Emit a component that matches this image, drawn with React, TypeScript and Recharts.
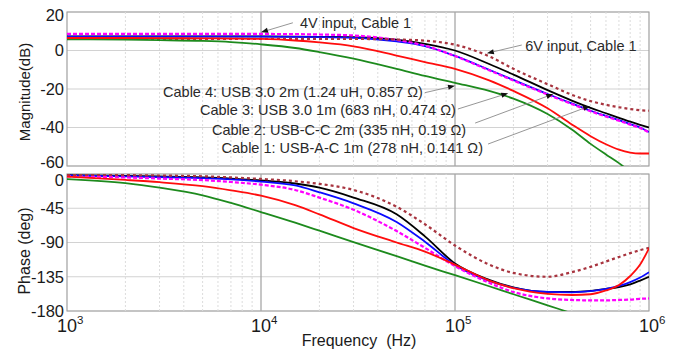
import React from 'react';
import { LineChart, Line, XAxis, YAxis, CartesianGrid, ReferenceLine, ReferenceArea } from 'recharts';

const FONT = '"Liberation Sans", Arial, Helvetica, sans-serif';

// frequency grid (Hz) shared by every trace
const freqs = [1e3, 2e3, 3e3, 5e3, 7e3, 1e4, 1.5e4, 2e4, 3e4, 5e4, 7e4, 1e5, 1.5e5, 2e5, 3e5, 4e5, 5e5, 6e5, 7e5, 8e5, 9e5, 1e6];

// magnitude, dB
const magCable1 = [7.2, 7.2, 7.2, 7.2, 7.2, 7.2, 7.1, 7.0, 6.6, 4.7, 2.3, -2.8, -10, -15.3, -22.6, -27.5, -31.3, -34, -36.2, -38.2, -40, -42.3];
const magCable2 = [7.3, 7.3, 7.3, 7.3, 7.3, 7.3, 7.2, 7.1, 7.0, 5.6, 3.5, 0, -7, -12.5, -20.6, -26, -29.8, -32.6, -35, -37, -38.6, -40];
const magCable3 = [6.5, 6.5, 6.4, 6.3, 6.2, 6.0, 5.2, 4.2, 2.2, -2.6, -6.0, -9.5, -15.5, -21, -30, -38.4, -44.5, -48.7, -51.5, -53, -53.5, -53.5];
const magCable4 = [5.8, 5.6, 5.4, 5.0, 4.4, 3.2, 1.3, -0.8, -4.2, -9.5, -13.2, -16.8, -21, -25, -33, -41, -48.5, -54, -58.5, -63, -67, -71];
const mag4V = [8.6, 8.6, 8.6, 8.6, 8.6, 8.6, 8.5, 8.3, 7.8, 5.5, 2.5, -2.9, -10.3, -15.6, -22.9, -27.8, -31.6, -34.3, -36.5, -38.5, -40.3, -42.6];
const mag6V = [6.0, 6.0, 6.0, 6.0, 6.0, 6.0, 6.0, 6.0, 6.0, 5.7, 5.1, 3.0, -3, -9.5, -17.5, -23, -26.3, -28.2, -29.5, -30.4, -31, -31.3];

// phase, degrees
const phCable1 = [-2, -3, -4, -5.5, -7, -10, -15, -24, -38.5, -63, -89, -119.6, -140.5, -149.5, -155, -155.5, -154, -151, -147, -142, -136, -129];
const phCable2 = [-1.5, -2.5, -3.3, -4.5, -6, -8.5, -12.5, -18, -31, -53, -82, -117.5, -139, -149, -155, -155, -153.5, -151, -148.5, -145, -140, -135];
const phCable3 = [-3.5, -7.8, -10.8, -16, -21.5, -28.5, -41, -53, -71, -90, -102, -119, -140, -150, -157.5, -159, -158, -153, -146, -134, -119, -97.6];
const phCable4 = [-6.6, -12, -18, -28, -38, -50, -64, -74.5, -89.5, -108, -120.5, -133, -147.5, -158, -172.5, -183, -191, -197.5, -203, -208, -212, -216];
const ph4V = [-3, -4.5, -6, -8, -10.5, -14, -21, -31, -47, -75, -97, -121, -143, -155, -163.5, -165.5, -166, -166, -165.5, -165, -164, -163.5];
const ph6V = [-1, -1.5, -2, -3, -4.5, -6.5, -9.5, -13, -21, -43, -66, -94, -119, -130, -135, -129, -122, -115, -109, -104, -100, -97];

const decadeTicks = [1e3, 1e4, 1e5, 1e6];
const magTicks = [-60, -40, -20, 0, 20];
const phaseTicks = [-180, -135, -90, -45, 0];
const minorFreqs = [1e3, 1e4, 1e5].flatMap(d => [2, 3, 4, 5, 6, 7, 8, 9].map(k => k * d));

const rows = freqs.map((f, i) => ({
  f,
  m1: magCable1[i], m2: magCable2[i], m3: magCable3[i], m4: magCable4[i], m4v: mag4V[i], m6v: mag6V[i],
  p1: phCable1[i], p2: phCable2[i], p3: phCable3[i], p4: phCable4[i], p4v: ph4V[i], p6v: ph6V[i],
}));

const traces = [
  { key: '2', color: '#000000', dash: undefined },
  { key: '1', color: '#0a0aff', dash: undefined },
  { key: '4v', color: '#ff00ff', dash: '4 2' },
  { key: '6v', color: '#a8343f', dash: '3 3' },
  { key: '4', color: '#1d8a1d', dash: undefined },
  { key: '3', color: '#ff0d0d', dash: undefined },
];

interface Note {
  text: string;
  tail: [number, number];
  tip: [number, number];
  dx: number;
  dy: number;
  anchor: 'start' | 'end';
}

const notes: Note[] = [
  { text: '4V input, Cable 1', tail: [1.46e4, 14.4], tip: [1.0e4, 9.45], dx: 7, dy: 5.6, anchor: 'start' },
  { text: '6V input, Cable 1', tail: [2.21e5, 2.85], tip: [1.46e5, -1.45], dx: 3.5, dy: 5.7, anchor: 'start' },
  { text: 'Cable 4: USB 3.0 2m (1.24 uH, 0.857 Ω)', tail: [7.0e4, -21.9], tip: [1.0e5, -18.3], dx: -2, dy: 4.6, anchor: 'end' },
  { text: 'Cable 3: USB 3.0 1m (683 nH, 0.474 Ω)', tail: [1.035e5, -30.4], tip: [1.88e5, -22.2], dx: -2, dy: 6, anchor: 'end' },
  { text: 'Cable 2: USB-C-C 2m (335 nH, 0.19 Ω)', tail: [1.27e5, -37.7], tip: [3.21e5, -22.6], dx: -9, dy: 12, anchor: 'end' },
  { text: 'Cable 1: USB-A-C 1m (278 nH, 0.141 Ω)', tail: [1.48e5, -48.6], tip: [4.97e5, -28.8], dx: -5, dy: 8.7, anchor: 'end' },
];

// thin leader line with a small filled head, text hung off the tail end
const noteShape = (n: Note) => (props: any) => {
  const { x1, y1, x2, y2 } = props;
  const ang = Math.atan2(y2 - y1, x2 - x1);
  const len = 7;
  const half = 2.6;
  const bx = x2 - len * Math.cos(ang);
  const by = y2 - len * Math.sin(ang);
  const px = -Math.sin(ang) * half;
  const py = Math.cos(ang) * half;
  return (
    <g>
      <line x1={x1} y1={y1} x2={bx} y2={by} stroke="#8a8a8a" strokeWidth={0.9} />
      <polygon points={`${x2},${y2} ${bx + px},${by + py} ${bx - px},${by - py}`} fill="#111" />
      <text x={x1 + n.dx} y={y1 + n.dy} textAnchor={n.anchor} fontSize={14.5} fill="#2a2a2a" fontFamily={FONT}>
        {n.text}
      </text>
    </g>
  );
};

const yTick = (shift: Record<number, number>) => (props: any) => {
  const { x, y, payload } = props;
  return (
    <text x={x} y={y + (shift[payload.value] ?? 0)} dy="0.36em" textAnchor="end" fontSize={16.5} fill="#1a1a1a" fontFamily={FONT}>
      {payload.value}
    </text>
  );
};

const xTick = (props: any) => {
  const { x, y, payload } = props;
  const exp = Math.round(Math.log10(payload.value));
  return (
    <g fontFamily={FONT} fill="#1a1a1a">
      <text x={x} y={y + 20.5} textAnchor="middle" fontSize={18}>10</text>
      <text x={x + 10} y={y + 13} textAnchor="start" fontSize={11.5}>{exp}</text>
    </g>
  );
};

const axisTitle = (text: string, cx: number, cy: number, size: number) => () => (
  <text x={cx} y={cy} transform={`rotate(-90 ${cx} ${cy})`} textAnchor="middle" dominantBaseline="central" fontSize={size} fill="#1a1a1a" fontFamily={FONT}>
    {text}
  </text>
);

const freqTitle = () => (
  <text x={359} y={176} textAnchor="middle" fontSize={16} fill="#1a1a1a" fontFamily={FONT} style={{ whiteSpace: 'pre' }}>
    {'Frequency  (Hz)'}
  </text>
);

const gridLines = () => [
  ...minorFreqs.map(f => (
    <ReferenceLine key={`mn${f}`} x={f} stroke="#dcdcdc" strokeWidth={1} strokeDasharray="2 2" />
  )),
  ...[1e4, 1e5].map(f => (
    <ReferenceLine key={`mj${f}`} x={f} stroke="#a8a8a8" strokeWidth={1.3} />
  )),
];

export default function App() {
  return (
    <div style={{ position: 'absolute', left: 0, top: 0, width: 686, height: 358, background: '#fff', fontFamily: FONT }}>
      <div style={{ position: 'absolute', left: 0, top: 170 }}>
        <LineChart width={686} height={188} data={rows} margin={{ top: 4, right: 37, bottom: 0, left: 0 }}>
          <CartesianGrid vertical={false} stroke="#d2d2d2" strokeWidth={1.2} />
          <XAxis
            dataKey="f"
            type="number"
            scale="log"
            domain={[1e3, 1e6]}
            ticks={decadeTicks}
            interval={0}
            allowDataOverflow
            height={47}
            axisLine={false}
            tickLine={false}
            tickSize={0}
            tickMargin={0}
            tick={xTick}
            label={freqTitle}
          />
          <YAxis
            type="number"
            domain={[-180, 0]}
            ticks={phaseTicks}
            interval={0}
            allowDataOverflow
            width={67}
            axisLine={false}
            tickLine={false}
            tickSize={0}
            tickMargin={3}
            tick={yTick({ 0: 6 })}
            label={axisTitle('Phase (deg)', 24, 81, 16)}
          />
          {gridLines()}
          {traces.map(t => (
            <Line
              key={`p${t.key}`}
              dataKey={`p${t.key}`}
              type="monotone"
              stroke={t.color}
              strokeWidth={t.dash ? 2.2 : 1.8}
              strokeDasharray={t.dash}
              dot={false}
              isAnimationActive={false}
            />
          ))}
          <ReferenceArea x1={1e3} x2={1e6} y1={-180} y2={0} fill="none" stroke="#a0a0a0" strokeWidth={1.2} />
        </LineChart>
      </div>
      <div style={{ position: 'absolute', left: 0, top: 0 }}>
        <LineChart width={686} height={174} data={rows} margin={{ top: 12, right: 37, bottom: 8, left: 0 }}>
          <CartesianGrid vertical={false} stroke="#d2d2d2" strokeWidth={1.2} />
          <XAxis dataKey="f" type="number" scale="log" domain={[1e3, 1e6]} ticks={decadeTicks} allowDataOverflow hide />
          <YAxis
            type="number"
            domain={[-60, 20]}
            ticks={magTicks}
            interval={0}
            allowDataOverflow
            width={67}
            axisLine={false}
            tickLine={false}
            tickSize={0}
            tickMargin={3}
            tick={yTick({ 20: 3, [-60]: -4 })}
            label={axisTitle('Magnitude(dB)', 24, 92, 15)}
          />
          {gridLines()}
          {traces.map(t => (
            <Line
              key={`m${t.key}`}
              dataKey={`m${t.key}`}
              type="monotone"
              stroke={t.color}
              strokeWidth={t.dash ? 2.2 : 1.8}
              strokeDasharray={t.dash}
              dot={false}
              isAnimationActive={false}
            />
          ))}
          <ReferenceArea x1={1e3} x2={1e6} y1={-60} y2={20} fill="none" stroke="#a0a0a0" strokeWidth={1.2} />
          {notes.map(n => (
            <ReferenceLine
              key={n.text}
              segment={[{ x: n.tail[0], y: n.tail[1] }, { x: n.tip[0], y: n.tip[1] }]}
              shape={noteShape(n)}
            />
          ))}
        </LineChart>
      </div>
    </div>
  );
}
